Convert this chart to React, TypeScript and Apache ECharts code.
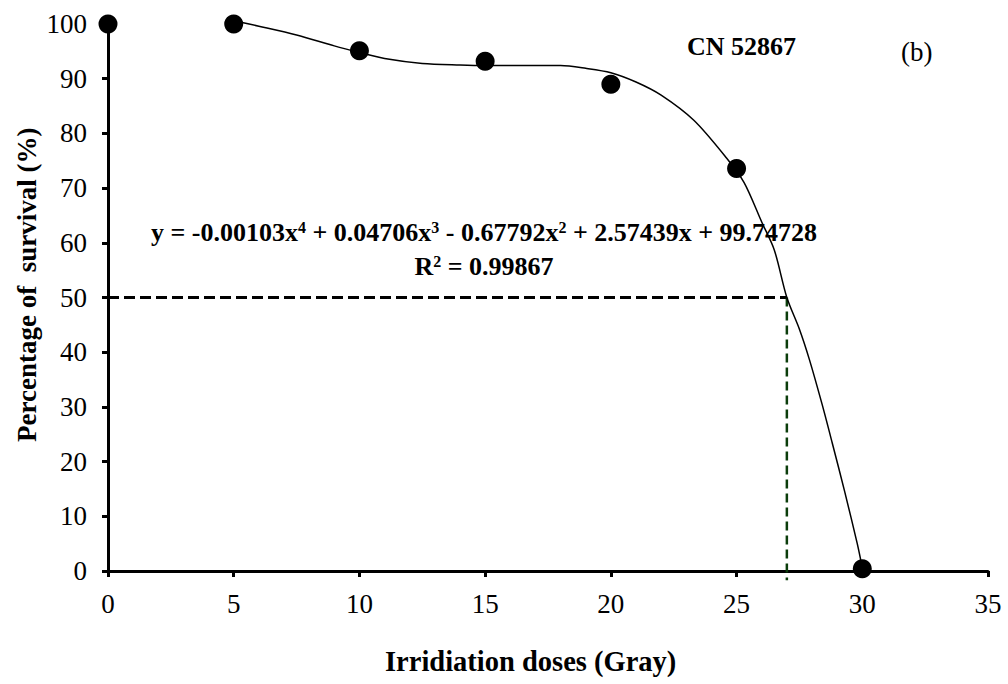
import React, { useEffect, useRef } from "react";
import * as echarts from "echarts";

// Observed data points (dose in Gray, % survival)
const doses = [0, 5, 10, 15, 20, 25, 30];
const survival = [100, 100, 95.1, 93.2, 89.0, 73.6, 0.4];

// Fitted trend curve
const curveX = [5, 6, 7.5, 9, 10, 11, 12.5, 14, 15, 16.5, 18, 19, 20, 21, 22, 23.3, 24.6, 25.3, 26, 26.5, 27, 27.5, 27.9, 28.4, 28.8, 29.3, 29.8, 30];
const curveY = [100.6, 99.6, 98.0, 96.0, 94.8, 93.7, 92.8, 92.5, 92.4, 92.4, 92.4, 91.9, 91.1, 89.4, 87.0, 82.4, 75.5, 71.0, 63.8, 58.7, 50.0, 44.2, 38.6, 30.5, 23.5, 14.5, 5.0, 0.6];

// LD50 guide lines
const ld50Dose = 27;
const ld50Survival = 50;

const xTicks = { min: 0, max: 35, interval: 5 };
const yTicks = { min: 0, max: 100, interval: 10 };

const cultivar = "CN 52867";
const panel = "(b)";
const eqText = "{b|y = -0.00103x}{s|4}{b| + 0.04706x}{s|3}{b| - 0.67792x}{s|2}{b| + 2.57439x + 99.74728}";
const r2Text = "{b|R}{s|2}{b| = 0.99867}";

const serif = "'Liberation Serif', 'Times New Roman', serif";

export default function App() {
  const ref = useRef<HTMLDivElement>(null);
  useEffect(() => {
    if (!ref.current) return;
    const chart = echarts.init(ref.current, null, { renderer: "svg" });
    const rich = {
      b: { fontFamily: serif, fontWeight: "bold", fontSize: 26, color: "#000" },
      s: { fontFamily: serif, fontWeight: "bold", fontSize: 16, color: "#000", verticalAlign: "top", padding: [0, 0, 10, 0] },
    };
    chart.setOption({
      animation: false,
      backgroundColor: "#fff",
      grid: { left: 108, right: 20, top: 24, bottom: 113 },
      xAxis: {
        type: "value",
        min: xTicks.min,
        max: xTicks.max,
        interval: xTicks.interval,
        splitLine: { show: false },
        axisLine: { show: true, lineStyle: { color: "#000", width: 3 } },
        axisTick: { show: true, length: 6, lineStyle: { color: "#000", width: 3 } },
        axisLabel: { fontFamily: serif, fontSize: 27, color: "#000", margin: 19 },
      },
      yAxis: {
        type: "value",
        min: yTicks.min,
        max: yTicks.max,
        interval: yTicks.interval,
        splitLine: { show: false },
        axisLine: { show: true, lineStyle: { color: "#000", width: 3 } },
        axisTick: { show: true, length: 6, lineStyle: { color: "#000", width: 3 } },
        axisLabel: { fontFamily: serif, fontSize: 27, color: "#000", margin: 21 },
      },
      graphic: [
        {
          type: "text",
          left: 385,
          top: 647,
          style: { text: "Irridiation doses (Gray)", fontFamily: serif, fontWeight: "bold", fontSize: 28.5, fill: "#000" },
        },
        {
          type: "text",
          x: 13,
          y: 442,
          rotation: Math.PI / 2,
          style: { text: "Percentage of  survival (%)", fontFamily: serif, fontWeight: "bold", fontSize: 27, fill: "#000", textAlign: "left", textVerticalAlign: "top" },
        },
        {
          type: "text",
          left: 687,
          top: 33,
          style: { text: cultivar, fontFamily: serif, fontWeight: "bold", fontSize: 26, fill: "#000" },
        },
        {
          type: "text",
          left: 901,
          top: 38,
          style: { text: panel, fontFamily: serif, fontSize: 27, fill: "#000" },
        },
        {
          type: "text",
          x: 484,
          y: 232,
          style: { text: eqText, rich, align: "center", verticalAlign: "middle" },
        },
        {
          type: "text",
          x: 484,
          y: 266,
          style: { text: r2Text, rich, align: "center", verticalAlign: "middle" },
        },
      ],
      series: [
        {
          type: "line",
          data: [[xTicks.min, ld50Survival], [ld50Dose, ld50Survival]],
          symbol: "none",
          clip: false,
          lineStyle: { color: "#000", width: 3, type: [11, 5] },
          z: 2,
        },
        {
          type: "line",
          data: [[ld50Dose, ld50Survival], [ld50Dose, -1.7]],
          symbol: "none",
          clip: false,
          lineStyle: { color: "#0b3d0b", width: 2.5, type: [9, 5] },
          z: 2,
        },
        {
          type: "line",
          data: curveX.map((x, i) => [x, curveY[i]]),
          symbol: "none",
          smooth: 0.3,
          clip: false,
          lineStyle: { color: "#000", width: 1.5 },
          z: 3,
        },
        {
          type: "scatter",
          data: doses.map((d, i) => [d, survival[i]]),
          symbol: "circle",
          symbolSize: 19,
          clip: false,
          itemStyle: { color: "#000", opacity: 1 },
          z: 4,
        },
      ],
    });
    return () => chart.dispose();
  }, []);
  return <div ref={ref} style={{ position: "fixed", left: 0, top: 0, width: 1008, height: 684 }} />;
}
